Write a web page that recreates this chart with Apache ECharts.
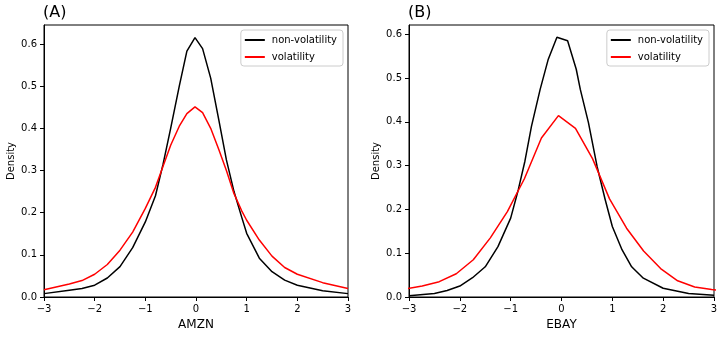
<!DOCTYPE html>
<html lang="en">
<head>
  <meta charset="UTF-8">
  <title>Density: volatility vs non-volatility</title>
  <script src="https://cdn.jsdelivr.net/npm/echarts@6.0.0/dist/echarts.min.js"></script>
  <style>
    body {
      margin: 0;
      background-color: #ffffff;
    }
    #chart {
      width: 723px;
      height: 338px;
    }
  </style>
</head>
<body>
  <div id="chart"></div>

  <script>
    // (A) AMZN - both curves read on the same x grid
    const amznX = [-3, -2.5, -2.25, -2, -1.75, -1.5, -1.25, -1, -0.8, -0.65, -0.5, -0.33, -0.18, -0.02,
      0.13, 0.29, 0.45, 0.6, 0.75, 0.9, 1, 1.25, 1.5, 1.75, 2, 2.5, 3];
    const amznNonVol = [0.008, 0.016, 0.020, 0.028, 0.045, 0.072, 0.117, 0.178, 0.240, 0.315, 0.400, 0.500, 0.583, 0.615,
      0.589, 0.519, 0.420, 0.325, 0.250, 0.190, 0.151, 0.092, 0.060, 0.040, 0.028, 0.015, 0.008];
    const amznVol = [0.017, 0.031, 0.039, 0.054, 0.077, 0.111, 0.154, 0.210, 0.260, 0.310, 0.360, 0.405, 0.435, 0.451,
      0.437, 0.400, 0.350, 0.300, 0.245, 0.205, 0.182, 0.135, 0.097, 0.070, 0.054, 0.034, 0.020];

    // (B) EBAY
    const ebayNonVolX = [-3, -2.5, -2.25, -2, -1.75, -1.5, -1.25, -1, -0.85, -0.72, -0.59, -0.42, -0.26, -0.09,
      0.12, 0.29, 0.37, 0.53, 0.7, 0.86, 1, 1.19, 1.38, 1.61, 2, 2.5, 3];
    const ebayNonVol = [0.003, 0.008, 0.015, 0.025, 0.044, 0.069, 0.115, 0.180, 0.245, 0.310, 0.390, 0.474, 0.543, 0.593,
      0.585, 0.520, 0.474, 0.398, 0.298, 0.222, 0.161, 0.108, 0.069, 0.043, 0.020, 0.008, 0.004];
    const ebayVolX = [-3.075, -2.74, -2.405, -2.07, -1.735, -1.4, -1.065, -0.73, -0.395, -0.06,
      0.275, 0.61, 0.945, 1.28, 1.615, 1.95, 2.285, 2.62, 2.955, 3.29];
    const ebayVol = [0.018, 0.025, 0.035, 0.053, 0.085, 0.135, 0.195, 0.270, 0.363, 0.414,
      0.385, 0.316, 0.224, 0.157, 0.105, 0.065, 0.037, 0.023, 0.017, 0.012];

    const panelNames = ['AMZN', 'EBAY'];
    const panelTitles = ['(A)', '(B)'];
    const yMax = [0.645, 0.621];

    const font = 'DejaVu Sans';

    function pairs(xs, ys) {
      return xs.map((x, i) => [x, ys[i]]);
    }

    const grids = [
      { left: 44, top: 25, width: 304, height: 272 },
      { left: 409, top: 25, width: 305, height: 272 }
    ];

    const option = {
      backgroundColor: '#ffffff',
      animation: false,
      textStyle: { fontFamily: font },
      title: panelTitles.map((t, i) => ({
        text: t,
        left: grids[i].left - 1,
        top: 5,
        padding: 0,
        textStyle: { fontFamily: font, fontSize: 16, fontWeight: 'normal', color: '#000' }
      })),
      grid: grids.map(g => Object.assign({ show: true, borderColor: '#000', borderWidth: 1 }, g)),
      legend: grids.map(g => ({
        data: ['non-volatility', 'volatility'],
        orient: 'vertical',
        right: 723 - (g.left + g.width) + 5,
        top: 30,
        icon: 'rect',
        itemWidth: 20,
        itemHeight: 2,
        itemGap: 7,
        padding: [5, 6, 4, 4],
        backgroundColor: '#ffffff',
        borderColor: '#cccccc',
        borderWidth: 1,
        borderRadius: 3,
        selectedMode: false,
        textStyle: { fontFamily: font, fontSize: 10, color: '#000', padding: [0, 0, 0, 2] }
      })),
      xAxis: grids.map((g, i) => ({
        type: 'value',
        gridIndex: i,
        min: -3,
        max: 3,
        interval: 1,
        name: panelNames[i],
        nameLocation: 'middle',
        nameGap: 22,
        nameTextStyle: { fontFamily: font, fontSize: 12, color: '#000' },
        splitLine: { show: false },
        axisLine: { show: true, onZero: false, lineStyle: { color: '#000', width: 1 } },
        axisTick: { show: true, inside: false, length: 4, lineStyle: { color: '#000', width: 1 } },
        axisLabel: {
          color: '#000',
          fontSize: 10,
          margin: 7,
          formatter: v => String(v).replace('-', '\u2212')
        }
      })),
      yAxis: grids.map((g, i) => ({
        type: 'value',
        gridIndex: i,
        min: 0,
        max: yMax[i],
        interval: 0.1,
        name: 'Density',
        nameLocation: 'middle',
        nameGap: 28,
        nameTextStyle: { fontFamily: font, fontSize: 10, color: '#000' },
        splitLine: { show: false },
        axisLine: { show: true, onZero: false, lineStyle: { color: '#000', width: 1 } },
        axisTick: { show: true, inside: false, length: 4, lineStyle: { color: '#000', width: 1 } },
        axisLabel: {
          color: '#000',
          fontSize: 10,
          margin: 7,
          showMaxLabel: false,
          formatter: v => v.toFixed(1)
        }
      })),
      series: [
        {
          name: 'non-volatility', type: 'line', xAxisIndex: 0, yAxisIndex: 0,
          data: pairs(amznX, amznNonVol), showSymbol: false,
          lineStyle: { color: '#000000', width: 1.5 }, itemStyle: { color: '#000000' }
        },
        {
          name: 'volatility', type: 'line', xAxisIndex: 0, yAxisIndex: 0,
          data: pairs(amznX, amznVol), showSymbol: false,
          lineStyle: { color: '#ff0000', width: 1.5 }, itemStyle: { color: '#ff0000' }
        },
        {
          name: 'non-volatility', type: 'line', xAxisIndex: 1, yAxisIndex: 1,
          data: pairs(ebayNonVolX, ebayNonVol), showSymbol: false,
          lineStyle: { color: '#000000', width: 1.5 }, itemStyle: { color: '#000000' }
        },
        {
          name: 'volatility', type: 'line', xAxisIndex: 1, yAxisIndex: 1,
          data: pairs(ebayVolX, ebayVol), showSymbol: false,
          lineStyle: { color: '#ff0000', width: 1.5 }, itemStyle: { color: '#ff0000' }
        }
      ]
    };

    const chart = echarts.init(document.getElementById('chart'));
    chart.setOption(option);
  </script>
</body>
</html>
